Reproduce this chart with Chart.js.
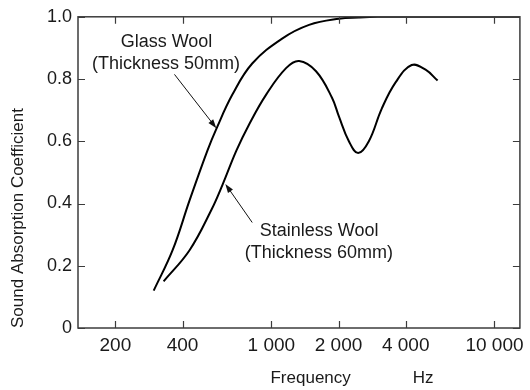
<!DOCTYPE html>
<html>
<head>
<meta charset="utf-8">
<script src="https://cdn.jsdelivr.net/npm/chart.js@4/dist/chart.umd.min.js"></script>
<style>
  html, body { margin: 0; padding: 0; background: #fff; }
  #wrap { width: 530px; height: 390px; }
</style>
</head>
<body>
<div id="wrap"><canvas id="chart" width="530" height="390"></canvas></div>
<script>
// Glass wool, 50mm
const glassFreq = [297, 361, 430, 517, 567, 669, 821, 1118, 1476, 2008, 2468, 3000, 5000, 8000, 13000];
const glassAbs  = [0.12, 0.25, 0.41, 0.57, 0.64, 0.75, 0.85, 0.93, 0.974, 0.994, 0.998, 1.0, 1.0, 1.0, 1.0];

// Stainless wool, 60mm
const steelFreq = [329, 430, 539, 604, 697, 796, 948, 1164, 1332, 1586, 1870, 2008, 2226, 2450, 2735, 3125, 3610, 4256, 4910, 5560];
const steelAbs  = [0.15, 0.25, 0.38, 0.46, 0.57, 0.655, 0.75, 0.835, 0.858, 0.825, 0.74, 0.68, 0.60, 0.562, 0.60, 0.705, 0.79, 0.845, 0.83, 0.795];

const xTickValues = [200, 400, 1000, 2000, 4000, 10000];
const xTickLabels = ["200", "400", "1 000", "2 000", "4 000", "10 000"];
const yTickValues = [0, 0.2, 0.4, 0.6, 0.8, 1.0];
const yTickLabels = ["0", "0.2", "0.4", "0.6", "0.8", "1.0"];

const FONT = "'Liberation Sans', Arial, sans-serif";
const TEXT = "#1a1a1a";

function toPoints(xs, ys) {
    return xs.map((x, i) => ({ x: x, y: ys[i] }));
}

// draws a thin line with a filled head at the end
function drawArrow(ctx, x1, y1, x2, y2) {
    const ang = Math.atan2(y2 - y1, x2 - x1);
    const len = 9, half = 3;
    ctx.beginPath();
    ctx.moveTo(x1, y1);
    ctx.lineTo(x2 - Math.cos(ang) * len * 0.8, y2 - Math.sin(ang) * len * 0.8);
    ctx.stroke();
    ctx.beginPath();
    ctx.moveTo(x2, y2);
    ctx.lineTo(x2 - len * Math.cos(ang) + half * Math.sin(ang), y2 - len * Math.sin(ang) - half * Math.cos(ang));
    ctx.lineTo(x2 - len * Math.cos(ang) - half * Math.sin(ang), y2 - len * Math.sin(ang) + half * Math.cos(ang));
    ctx.closePath();
    ctx.fill();
}

const frameAndNotes = {
    id: "frameAndNotes",
    afterDraw(chart) {
        const ctx = chart.ctx;
        const area = chart.chartArea;
        const xs = chart.scales.x, ys = chart.scales.y;
        ctx.save();

        // box
        ctx.strokeStyle = "#3c3c3c";
        ctx.lineWidth = 1.5;
        ctx.strokeRect(area.left, area.top, area.right - area.left, area.bottom - area.top);

        // inward tick marks on all four sides
        ctx.lineWidth = 1.2;
        ctx.beginPath();
        xTickValues.forEach(v => {
            const px = Math.round(xs.getPixelForValue(v)) + 0.5;
            ctx.moveTo(px, area.bottom); ctx.lineTo(px, area.bottom - 7);
            ctx.moveTo(px, area.top); ctx.lineTo(px, area.top + 7);
        });
        yTickValues.forEach(v => {
            const py = Math.round(ys.getPixelForValue(v)) + 0.5;
            ctx.moveTo(area.left, py); ctx.lineTo(area.left + 7, py);
            ctx.moveTo(area.right, py); ctx.lineTo(area.right - 7, py);
        });
        ctx.stroke();

        // curve labels
        ctx.fillStyle = TEXT;
        ctx.font = "18px " + FONT;
        ctx.textAlign = "center";
        ctx.textBaseline = "middle";
        const label = (t, f, a) => ctx.fillText(t, xs.getPixelForValue(f), ys.getPixelForValue(a));
        label("Glass Wool", 339, 0.92);
        label("(Thickness 50mm)", 337, 0.847);
        label("Stainless Wool", 1637, 0.313);
        label("(Thickness 60mm)", 1633, 0.24);

        ctx.strokeStyle = "#111";
        ctx.fillStyle = "#111";
        ctx.lineWidth = 1;
        drawArrow(ctx, xs.getPixelForValue(368), ys.getPixelForValue(0.815),
                       xs.getPixelForValue(567), ys.getPixelForValue(0.642));
        drawArrow(ctx, xs.getPixelForValue(821), ys.getPixelForValue(0.339),
                       xs.getPixelForValue(622), ys.getPixelForValue(0.463));

        // axis name and unit sit apart under the x axis
        ctx.fillStyle = TEXT;
        ctx.font = "17px " + FONT;
        ctx.fillText("Frequency", xs.getPixelForValue(1500), area.bottom + 50);
        ctx.fillText("Hz", xs.getPixelForValue(4790), area.bottom + 50);
        ctx.restore();
    }
};

new Chart(document.getElementById("chart"), {
    type: "line",
    data: {
        datasets: [
            {
                label: "Glass Wool (Thickness 50mm)",
                data: toPoints(glassFreq, glassAbs),
                borderColor: "#000",
                borderWidth: 2,
                pointRadius: 0,
                tension: 0.4,
                fill: false,
            },
            {
                label: "Stainless Wool (Thickness 60mm)",
                data: toPoints(steelFreq, steelAbs),
                borderColor: "#000",
                borderWidth: 2,
                pointRadius: 0,
                tension: 0.4,
                fill: false,
            },
        ],
    },
    options: {
        responsive: false,
        animation: false,
        layout: { padding: { top: 15, right: 8, left: 0, bottom: 0 } },
        plugins: {
            legend: { display: false },
            tooltip: { enabled: false },
        },
        scales: {
            x: {
                type: "logarithmic",
                min: 136,
                max: 13000,
                grid: { display: false, drawTicks: false },
                border: { display: false },
                afterBuildTicks: (scale) => {
                    scale.ticks = xTickValues.map(v => ({ value: v }));
                },
                afterFit: (scale) => { scale.height = 62; },
                ticks: {
                    autoSkip: false,
                    maxRotation: 0,
                    padding: 6,
                    color: TEXT,
                    font: { family: FONT, size: 19 },
                    callback: (value) => xTickLabels[xTickValues.indexOf(value)],
                },
            },
            y: {
                min: 0,
                max: 1,
                grid: { display: false, drawTicks: false },
                border: { display: false },
                afterBuildTicks: (scale) => {
                    scale.ticks = yTickValues.map(v => ({ value: v }));
                },
                afterFit: (scale) => { scale.width = 78; },
                ticks: {
                    padding: 6,
                    color: TEXT,
                    font: { family: FONT, size: 18 },
                    callback: (value) => yTickLabels[yTickValues.indexOf(value)],
                },
                title: {
                    display: true,
                    text: "Sound Absorption Coefficient",
                    align: "start",
                    color: TEXT,
                    font: { family: FONT, size: 17 },
                    padding: { top: 8, bottom: 0 },
                },
            },
        },
    },
    plugins: [frameAndNotes],
});
</script>
</body>
</html>
